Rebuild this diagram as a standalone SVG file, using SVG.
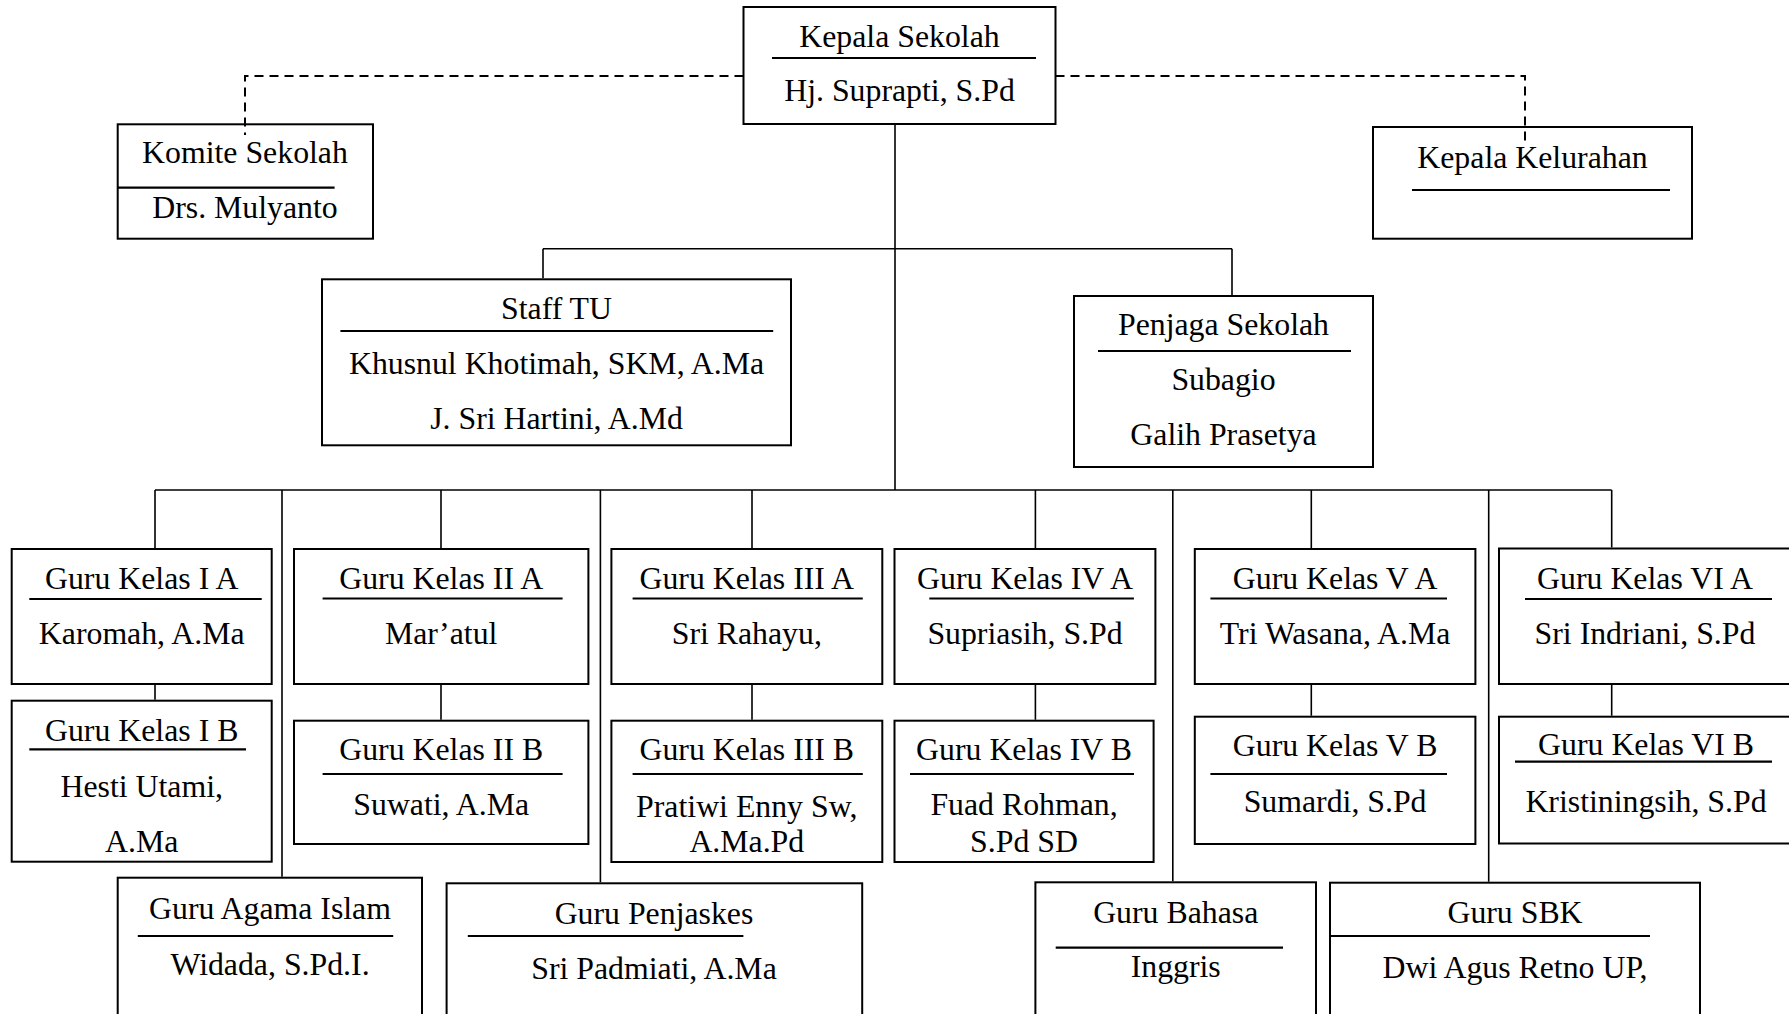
<svg xmlns="http://www.w3.org/2000/svg" width="1789" height="1014" viewBox="0 0 1789 1014">
  <style>
    .box { fill: #ffffff; stroke: #000000; stroke-width: 2; }
    .sep { stroke: #000000; stroke-width: 2.2; }
    .link { fill: none; stroke: #000000; stroke-width: 1.6; }
    .dash { fill: none; stroke: #000000; stroke-width: 2; stroke-dasharray: 9 6; }
    .t { font-family: "Liberation Serif", "Times New Roman", serif; font-size: 31.8px; fill: #000000; text-anchor: middle; }
  </style>
  <rect x="0" y="0" width="1789" height="1014" fill="#ffffff"/>

  <!-- top level -->
  <g id="kepala-sekolah">
    <rect class="box" x="743.5" y="7" width="312" height="117"/>
    <text class="t" x="899.5" y="47">Kepala Sekolah</text>
    <line class="sep" x1="772" y1="58" x2="1036" y2="58"/>
    <text class="t" x="899.5" y="101">Hj. Suprapti, S.Pd</text>
  </g>
  <g id="komite-sekolah">
    <rect class="box" x="117.7" y="124.3" width="255.3" height="114.4"/>
    <text class="t" x="245" y="163">Komite Sekolah</text>
    <line class="sep" x1="117.7" y1="187.7" x2="334.6" y2="187.7"/>
    <text class="t" x="245" y="218">Drs. Mulyanto</text>
  </g>
  <g id="kepala-kelurahan">
    <rect class="box" x="1373" y="127" width="319" height="111.7"/>
    <text class="t" x="1532.5" y="168.3">Kepala Kelurahan</text>
    <line class="sep" x1="1412" y1="190" x2="1670" y2="190"/>
  </g>

  <!-- staff -->
  <g id="staff-tu">
    <rect class="box" x="322" y="279.3" width="469" height="166"/>
    <text class="t" x="556.5" y="319">Staff TU</text>
    <line class="sep" x1="340.4" y1="331" x2="773.2" y2="331"/>
    <text class="t" x="556.5" y="374">Khusnul Khotimah, SKM, A.Ma</text>
    <text class="t" x="556.5" y="429">J. Sri Hartini, A.Md</text>
  </g>
  <g id="penjaga-sekolah">
    <rect class="box" x="1074" y="296" width="299" height="171"/>
    <text class="t" x="1223.5" y="335">Penjaga Sekolah</text>
    <line class="sep" x1="1098" y1="351" x2="1351" y2="351"/>
    <text class="t" x="1223.5" y="390">Subagio</text>
    <text class="t" x="1223.5" y="445">Galih Prasetya</text>
  </g>

  <!-- class teachers, row A -->
  <g id="guru-kelas-1a">
    <rect class="box" x="11.7" y="549" width="260" height="135"/>
    <text class="t" x="141.7" y="589">Guru Kelas I A</text>
    <line class="sep" x1="29.3" y1="599" x2="261.7" y2="599"/>
    <text class="t" x="141.7" y="644">Karomah, A.Ma</text>
  </g>
  <g id="guru-kelas-2a">
    <rect class="box" x="294" y="549" width="294.4" height="135"/>
    <text class="t" x="441.2" y="589">Guru Kelas II A</text>
    <line class="sep" x1="322.6" y1="598.5" x2="562.6" y2="598.5"/>
    <text class="t" x="441.2" y="644">Mar’atul</text>
  </g>
  <g id="guru-kelas-3a">
    <rect class="box" x="611.4" y="549" width="270.9" height="135"/>
    <text class="t" x="746.8" y="589">Guru Kelas III A</text>
    <line class="sep" x1="632.6" y1="598.5" x2="862.8" y2="598.5"/>
    <text class="t" x="746.8" y="644">Sri Rahayu,</text>
  </g>
  <g id="guru-kelas-4a">
    <rect class="box" x="894.5" y="549" width="260.9" height="135"/>
    <text class="t" x="1025" y="589">Guru Kelas IV A</text>
    <line class="sep" x1="929.3" y1="598.5" x2="1133.9" y2="598.5"/>
    <text class="t" x="1025" y="644">Supriasih, S.Pd</text>
  </g>
  <g id="guru-kelas-5a">
    <rect class="box" x="1194.8" y="549" width="280.6" height="135"/>
    <text class="t" x="1335.1" y="589">Guru Kelas V A</text>
    <line class="sep" x1="1210.4" y1="598.5" x2="1447" y2="598.5"/>
    <text class="t" x="1335.1" y="644">Tri Wasana, A.Ma</text>
  </g>
  <g id="guru-kelas-6a">
    <rect class="box" x="1499" y="548.5" width="302" height="135.5"/>
    <text class="t" x="1645" y="589">Guru Kelas VI A</text>
    <line class="sep" x1="1525" y1="599" x2="1772" y2="599"/>
    <text class="t" x="1645" y="644">Sri Indriani, S.Pd</text>
  </g>

  <!-- class teachers, row B -->
  <g id="guru-kelas-1b">
    <rect class="box" x="11.7" y="700.7" width="260" height="161"/>
    <text class="t" x="141.7" y="740.7">Guru Kelas I B</text>
    <line class="sep" x1="29.3" y1="749.3" x2="246" y2="749.3"/>
    <text class="t" x="141.7" y="796.7">Hesti Utami,</text>
    <text class="t" x="141.7" y="851.7">A.Ma</text>
  </g>
  <g id="guru-kelas-2b">
    <rect class="box" x="294" y="720.7" width="294.4" height="123.3"/>
    <text class="t" x="441.2" y="759.5">Guru Kelas II B</text>
    <line class="sep" x1="322.6" y1="774" x2="562.6" y2="774"/>
    <text class="t" x="441.2" y="815">Suwati, A.Ma</text>
  </g>
  <g id="guru-kelas-3b">
    <rect class="box" x="611.4" y="720.7" width="270.9" height="141.3"/>
    <text class="t" x="746.8" y="759.5">Guru Kelas III B</text>
    <line class="sep" x1="632.6" y1="774" x2="862.8" y2="774"/>
    <text class="t" x="746.8" y="817">Pratiwi Enny Sw,</text>
    <text class="t" x="746.8" y="851.7">A.Ma.Pd</text>
  </g>
  <g id="guru-kelas-4b">
    <rect class="box" x="894.5" y="720.7" width="259.1" height="141.3"/>
    <text class="t" x="1024" y="759.5">Guru Kelas IV B</text>
    <line class="sep" x1="910" y1="774" x2="1134" y2="774"/>
    <text class="t" x="1024" y="815">Fuad Rohman,</text>
    <text class="t" x="1024" y="851.7">S.Pd SD</text>
  </g>
  <g id="guru-kelas-5b">
    <rect class="box" x="1194.8" y="716.7" width="280.6" height="127.3"/>
    <text class="t" x="1335.1" y="756">Guru Kelas V B</text>
    <line class="sep" x1="1210.4" y1="774" x2="1447" y2="774"/>
    <text class="t" x="1335.1" y="811.7">Sumardi, S.Pd</text>
  </g>
  <g id="guru-kelas-6b">
    <rect class="box" x="1499" y="716.7" width="302" height="126.8"/>
    <text class="t" x="1646" y="755">Guru Kelas VI B</text>
    <line class="sep" x1="1515" y1="761.7" x2="1772" y2="761.7"/>
    <text class="t" x="1646" y="811.7">Kristiningsih, S.Pd</text>
  </g>

  <!-- subject teachers -->
  <g id="guru-agama-islam">
    <rect class="box" x="117.7" y="877.7" width="304.3" height="150"/>
    <text class="t" x="270" y="918.5">Guru Agama Islam</text>
    <line class="sep" x1="137.8" y1="936" x2="393.2" y2="936"/>
    <text class="t" x="270" y="975">Widada, S.Pd.I.</text>
  </g>
  <g id="guru-penjaskes">
    <rect class="box" x="446.6" y="883.3" width="415.6" height="150"/>
    <text class="t" x="654" y="924">Guru Penjaskes</text>
    <line class="sep" x1="467.8" y1="936" x2="743.4" y2="936"/>
    <text class="t" x="654" y="978.5">Sri Padmiati, A.Ma</text>
  </g>
  <g id="guru-bahasa">
    <rect class="box" x="1035.4" y="882.3" width="280.6" height="150"/>
    <text class="t" x="1175.7" y="922.5">Guru Bahasa</text>
    <line class="sep" x1="1055.7" y1="947.7" x2="1283" y2="947.7"/>
    <text class="t" x="1175.7" y="977.3">Inggris</text>
  </g>
  <g id="guru-sbk">
    <rect class="box" x="1330" y="882.7" width="370" height="150"/>
    <text class="t" x="1515" y="923">Guru SBK</text>
    <line class="sep" x1="1330" y1="936" x2="1650" y2="936"/>
    <text class="t" x="1515" y="978">Dwi Agus Retno UP,</text>
  </g>

  <!-- connectors, drawn last so the dashed advisory lines run over the box tops -->
  <g id="connectors">
    <path class="dash" d="M743.5 76 H245 V135"/>
    <path class="dash" d="M1055.5 76 H1525 V143"/>
    <path class="link" d="M895 125 V490"/>
    <path class="link" d="M543 248.7 H1232 M543 248.7 V278.3 M1232 248.7 V295"/>
    <path class="link" d="M155 490 H1611.7"/>
    <path class="link" d="M155 490 V548 M282 490 V876.7 M441 490 V548 M600.4 490 V882.3 M752 490 V548 M1035.4 490 V548 M1172.8 490 V881.3 M1311.3 490 V548 M1488.7 490 V881.7 M1611.7 490 V547.5"/>
    <path class="link" d="M155 685 V699.7 M441 685 V719.7 M752 685 V719.7 M1035.4 685 V719.7 M1311.3 685 V715.7 M1611.7 685 V715.7"/>
  </g>
</svg>
